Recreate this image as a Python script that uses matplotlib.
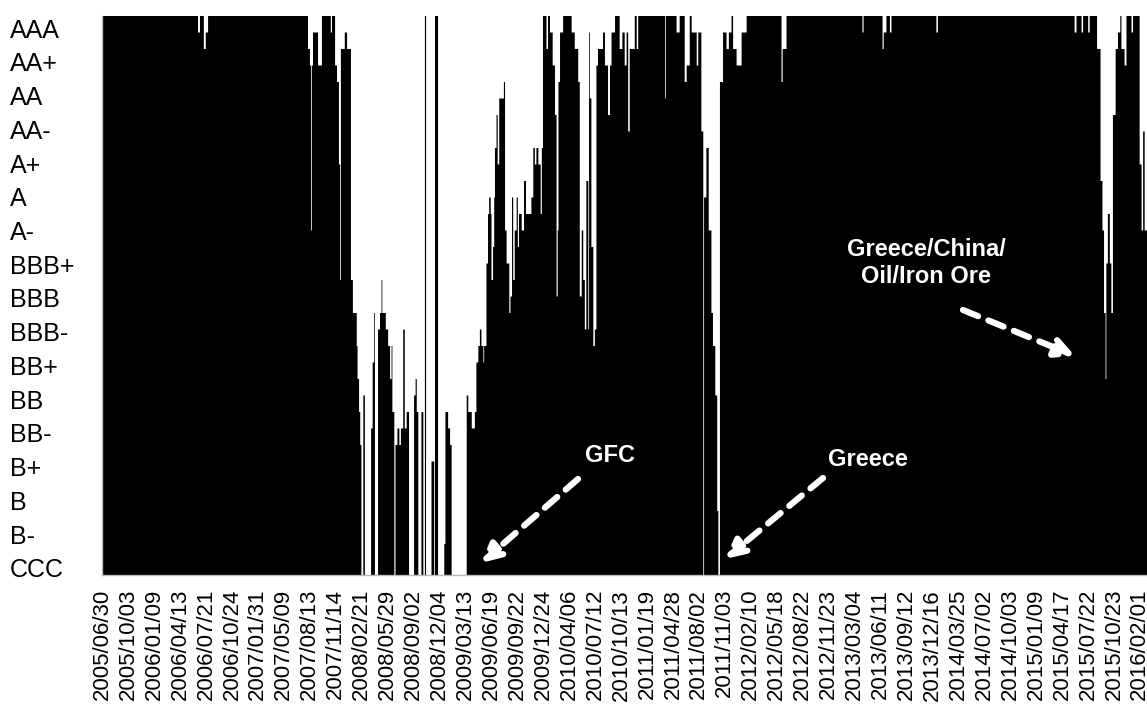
import numpy as np
import matplotlib
matplotlib.use("Agg")
import matplotlib.pyplot as plt
from matplotlib.patches import FancyArrowPatch

plt.rcParams['font.family'] = ['Liberation Sans', 'DejaVu Sans']

# rating scale, top to bottom
ratings = ['AAA', 'AA+', 'AA', 'AA-', 'A+', 'A', 'A-', 'BBB+', 'BBB', 'BBB-',
           'BB+', 'BB', 'BB-', 'B+', 'B', 'B-', 'CCC']

# implied rating in half-notch steps (33 = top of scale, -1 = bottom),
# stored as runs: level held until trading day index in run_ends
run_levels = [33, 32, 33, 31, 32, 33, 31, 30, 20, 30,
              32, 30, 33, 32, 33, 30, 29, 24, 17, 31,
              32, 31, 17, 15, 13, 11, 9, 7, -1, 10,
              -1, 8, 12, 15, -1, 14, 15, 17, 15, 14,
              13, 11, 13, 9, -1, 7, 8, 7, 8, 14,
              8, 9, -1, 10, 11, 9, -1, 9, -1, 33,
              -1, 6, -1, 33, -1, 1, 9, 8, 7, -1,
              10, 9, 8, 9, 12, 13, 14, 13, 12, 13,
              18, 21, 22, 21, 17, 19, 22, 25, 27, 24,
              28, 29, 20, 18, 15, 16, 22, 17, 20, 22,
              19, 21, 20, 23, 21, 22, 25, 24, 25, 24,
              21, 25, 33, 31, 33, 32, 30, 27, 16, 20,
              29, 32, 33, 32, 31, 29, 16, 20, 17, 14,
              23, 14, 32, 28, 19, 13, 14, 30, 31, 32,
              30, 27, 30, 32, 33, 31, 32, 30, 32, 26,
              31, 33, 31, 33, 28, 33, 32, 33, 29, 30,
              33, 32, 30, 32, 26, -1, 22, 25, 20, 15,
              13, 10, 3, -1, 29, 32, 31, 32, 33, 31,
              30, 32, 33, 29, 31, 33, 32, 33, 31, 32,
              33, 32, 33, 32, 33, 32, 33, 32, 33, 32,
              33, 31, 23, 20, 15, 11, 18, 21, 18, 15,
              27, 31, 32, 33, 31, 30, 33, 32, 33, 24,
              20, 26, 20]
run_ends = [248, 253, 263, 268, 274, 532, 537, 540, 542, 545,
            558, 568, 591, 594, 602, 607, 612, 615, 617, 627,
            633, 643, 648, 658, 660, 664, 667, 670, 675, 679,
            695, 699, 703, 705, 713, 718, 722, 724, 733, 739,
            744, 748, 750, 755, 758, 763, 768, 772, 778, 782,
            787, 793, 806, 810, 813, 817, 825, 830, 834, 837,
            851, 858, 860, 868, 884, 887, 894, 899, 903, 942,
            946, 955, 963, 967, 972, 976, 980, 985, 987, 993,
            997, 1000, 1004, 1006, 1010, 1013, 1015, 1019, 1022, 1026,
            1038, 1041, 1045, 1052, 1055, 1059, 1062, 1066, 1071, 1074,
            1077, 1084, 1090, 1095, 1109, 1114, 1118, 1122, 1127, 1133,
            1136, 1139, 1148, 1152, 1157, 1164, 1170, 1174, 1177, 1179,
            1183, 1191, 1213, 1221, 1230, 1234, 1239, 1243, 1247, 1251,
            1256, 1258, 1260, 1264, 1269, 1273, 1277, 1281, 1294, 1299,
            1307, 1312, 1316, 1325, 1337, 1344, 1350, 1355, 1359, 1363,
            1376, 1381, 1385, 1454, 1456, 1484, 1492, 1505, 1510, 1518,
            1523, 1536, 1540, 1548, 1553, 1555, 1561, 1567, 1574, 1578,
            1584, 1589, 1592, 1596, 1604, 1613, 1619, 1626, 1630, 1639,
            1652, 1665, 1755, 1758, 1768, 1964, 1967, 2016, 2019, 2026,
            2035, 2039, 2155, 2159, 2512, 2517, 2530, 2534, 2547, 2551,
            2570, 2579, 2584, 2588, 2592, 2594, 2598, 2603, 2607, 2611,
            2618, 2624, 2630, 2633, 2641, 2646, 2659, 2663, 2680, 2685,
            2689, 2693, 2701]

tick_dates = ['2005/06/30', '2005/10/03', '2006/01/09', '2006/04/13', '2006/07/21',
              '2006/10/24', '2007/01/31', '2007/05/09', '2007/08/13', '2007/11/14',
              '2008/02/21', '2008/05/29', '2008/09/02', '2008/12/04', '2009/03/13',
              '2009/06/19', '2009/09/22', '2009/12/24', '2010/04/06', '2010/07/12',
              '2010/10/13', '2011/01/19', '2011/04/28', '2011/08/02', '2011/11/03',
              '2012/02/10', '2012/05/18', '2012/08/22', '2012/11/23', '2013/03/04',
              '2013/06/11', '2013/09/12', '2013/12/16', '2014/03/25', '2014/07/02',
              '2014/10/03', '2015/01/09', '2015/04/17', '2015/07/22', '2015/10/23',
              '2016/02/01']
tick_step = 67  # trading days between labelled dates

W, H = 1147, 704
fig = plt.figure(figsize=(W / 100, H / 100), dpi=100)
ax = fig.add_axes([102 / W, (H - 575) / H, 1 - 102 / W, (575 - 16) / H])

ymin, ymax = -0.88, 33
lengths = np.diff([0] + run_ends)
daily = np.repeat(run_levels, lengths).astype(float)
edges = np.arange(len(daily) + 1) - 0.5
ax.stairs(np.clip(daily, ymin, None), edges, baseline=ymin, fill=True,
          color='black', lw=0)

ax.set_xlim(-0.5, 2698.5)
ax.set_ylim(ymin, ymax)

ax.set_xticks(np.arange(len(tick_dates)) * tick_step)
ax.set_xticklabels(tick_dates, rotation=90, fontsize=16)
ax.tick_params(axis='x', length=0, pad=10)

ypos = np.linspace(32.27, -0.45, len(ratings))
ax.set_yticks(ypos)
ax.set_yticklabels(ratings, fontsize=18)
for t in ax.get_yticklabels():
    t.set_ha('left')
ax.tick_params(axis='y', length=0, pad=92 * 0.72)

for s in ['top', 'right']:
    ax.spines[s].set_visible(False)
for s in ['left', 'bottom']:
    ax.spines[s].set_color('#bbbbbb')
    ax.spines[s].set_linewidth(1)


def fpos(x, y):
    return (x / W, 1 - y / H)


def label(x, y, s):
    fig.text(*fpos(x, y), s, color='white', fontsize=17, fontweight='bold',
             ha='center', va='center', linespacing=1.25)


def dashed_arrow(x0, y0, x1, y1):
    fig.add_artist(FancyArrowPatch(fpos(x0, y0), fpos(x1, y1),
                                   transform=fig.transFigure,
                                   arrowstyle='-|>', mutation_scale=28,
                                   lw=4.5, linestyle=(0, (2.6, 1.8)),
                                   color='white', shrinkA=0, shrinkB=0))


label(610, 455, 'GFC')
label(868, 459, 'Greece')
label(926, 263, 'Greece/China/\nOil/Iron Ore')
dashed_arrow(578, 479, 481, 563)
dashed_arrow(823, 478, 725, 559)
dashed_arrow(963, 310, 1075, 356)

fig.savefig('out.png', dpi=100)
